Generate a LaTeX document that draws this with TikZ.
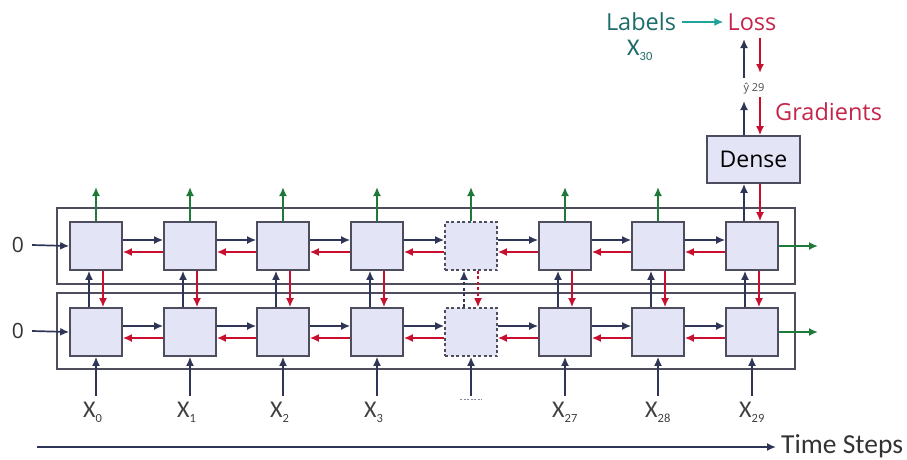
\documentclass[tikz,border=0pt]{standalone}
\usepackage{fontspec}
\setmainfont{Open Sans}
\newfontfamily\cf{Carlito}
\usetikzlibrary{arrows.meta}
\definecolor{navy}{HTML}{2F3557}
\definecolor{cellborder}{HTML}{4D4D5E}
\definecolor{cellfill}{HTML}{E4E4F7}
\definecolor{gradred}{HTML}{C8102E}
\definecolor{lossred}{HTML}{C4264A}
\definecolor{outgreen}{HTML}{1F7A3A}
\definecolor{tealarrow}{HTML}{1FA39A}
\definecolor{tealtext}{HTML}{1E6C6A}
\tikzset{
  cell/.style={draw=cellborder, fill=cellfill, line width=1.6pt, minimum width=52pt, minimum height=48pt, inner sep=0pt},
  dcell/.style={cell, dash pattern=on 3pt off 2.5pt},
  frame/.style={draw=cellborder, line width=1.6pt, minimum width=738pt, minimum height=76pt, inner sep=0pt},
  arr/.style={line width=1.7pt, -{Latex[length=9pt,width=8pt]}},
  fwd/.style={arr, draw=navy},
  bwd/.style={arr, draw=gradred},
  outg/.style={arr, draw=outgreen},
  tealarr/.style={arr, draw=tealarrow},
  xlab/.style={font=\cf\fontsize{24}{24}\selectfont, text=black!75, inner sep=0pt},
  biglab/.style={font=\fontsize{23.5}{23.5}\selectfont, inner sep=0pt},
}
\newcommand{\xsub}[1]{X\raisebox{-5pt}{\fontsize{12.5}{12.5}\selectfont #1}}
\begin{document}
\begin{tikzpicture}[x=1pt,y=-1pt]
\useasboundingbox (0,0) rectangle (907,459);
% frames
\node[frame] (L1) at (426,246) {};
\node[frame] (L2) at (426,331) {};
% cells
\foreach \i/\x in {0/96,1/190,2/283,3/377,5/565,6/658,7/752}{
  \node[cell] (t\i) at (\x,246) {};
  \node[cell] (b\i) at (\x,332) {};
}
\node[dcell] (t4) at (471,246) {};
\node[dcell] (b4) at (471,332) {};
% horizontal arrows
\foreach \i/\j in {0/1,1/2,2/3,3/4,4/5,5/6,6/7}{
  \draw[fwd] ([yshift=6pt]t\i.east) -- ([yshift=6pt]t\j.west);
  \draw[bwd] ([yshift=-6pt]t\j.west) -- ([yshift=-6pt]t\i.east);
  \draw[fwd] ([yshift=6pt]b\i.east) -- ([yshift=6pt]b\j.west);
  \draw[bwd] ([yshift=-6pt]b\j.west) -- ([yshift=-6pt]b\i.east);
}
% vertical arrows between layers
\foreach \i in {0,1,2,3,5,6,7}{
  \draw[fwd] ([xshift=-7pt]b\i.north) -- ([xshift=-7pt]t\i.south);
  \draw[bwd] ([xshift=7pt]t\i.south) -- ([xshift=7pt]b\i.north);
}
\draw[fwd,dash pattern=on 3pt off 2.5pt] ([xshift=-7pt]b4.north) -- ([xshift=-7pt]t4.south);
\draw[bwd,dash pattern=on 3pt off 2.5pt] ([xshift=7pt]t4.south) -- ([xshift=7pt]b4.north);
% green outputs upward
\foreach \i/\x in {0/96,1/190,2/283,3/377,4/471,5/565,6/658}{
  \coordinate (go\i) at (\x,187);
  \draw[outg] (t\i.north) -- (go\i);
}
% right outputs
\coordinate (ro1) at (818,246);
\coordinate (ro2) at (818,332);
\draw[outg] (t7.east) -- (ro1);
\draw[outg] (b7.east) -- (ro2);
% zero inputs
\node[font=\fontsize{21}{21}\selectfont, inner sep=0pt, text=black!80] (z1) at (18,245) {0};
\node[font=\fontsize{21}{21}\selectfont, inner sep=0pt, text=black!80] (z2) at (18,331) {0};
\draw[fwd] ([xshift=8pt]z1.east) -- (t0.west);
\draw[fwd] ([xshift=8pt]z2.east) -- (b0.west);
% x inputs
\foreach \i/\x/\lab in {0/96/0,1/190/1,2/283/2,3/377/3,5/565/27,6/658/28,7/752/29}{
  \coordinate (in\i) at (\x,396);
  \draw[fwd] (in\i) -- (b\i.south);
  \node[xlab, anchor=north west] (x\i) at (\x-13,402) {\xsub{\lab}};
}
\coordinate (in4) at (471,396);
\draw[fwd] (in4) -- (b4.south);
\draw[navy!60, line width=0.9pt, dash pattern=on 2pt off 1.5pt] (460,399) -- (482,399);
% dense
\node[cell, minimum width=93pt, minimum height=47pt] (dense) at (753.5,159.5) {\fontsize{23}{23}\selectfont Dense};
\draw[fwd] ([xshift=-8pt]t7.north) -- ([xshift=-9.5pt]dense.south);
\draw[bwd] ([xshift=6.5pt]dense.south) -- ([xshift=8pt]t7.north);
% above dense
\node[biglab, text=lossred] (loss) at (752,22) {Loss};
\node[biglab, text=tealtext] (labels) at (641,22) {Labels};
\node[xlab, text=tealtext, anchor=north west] (x30) at (627,40) {\xsub{30}};
\draw[tealarr] ([xshift=6pt]labels.east) -- ([xshift=-4pt]loss.west);
\node[inner sep=0pt, font=\fontsize{11}{11}\selectfont, text=black!70] (yhat) at (754,89) {ŷ 29};
\coordinate (ya1) at (744,101);
\coordinate (ya2) at (744,78);
\coordinate (la) at (744,39);
\draw[fwd] ([xshift=-9.5pt]dense.north) -- (ya1);
\draw[fwd] (ya2) -- (la);
\coordinate (ra1) at (760,38);
\coordinate (ra2) at (760,73);
\coordinate (ra3) at (760,97);
\draw[bwd] (ra1) -- (ra2);
\draw[bwd] (ra3) -- ([xshift=6.5pt]dense.north);
\node[biglab, text=lossred, anchor=west] (grad) at (775,112) {Gradients};
% time steps
\node[font=\cf\fontsize{27.5}{27.5}\selectfont, text=black!80, inner sep=0pt, anchor=west] (ts) at (781,446) {Time Steps};
\coordinate (ts0) at (37,447);
\draw[fwd] (ts0) -- ([xshift=-5pt]ts.west |- ts0);
\end{tikzpicture}
\end{document}
